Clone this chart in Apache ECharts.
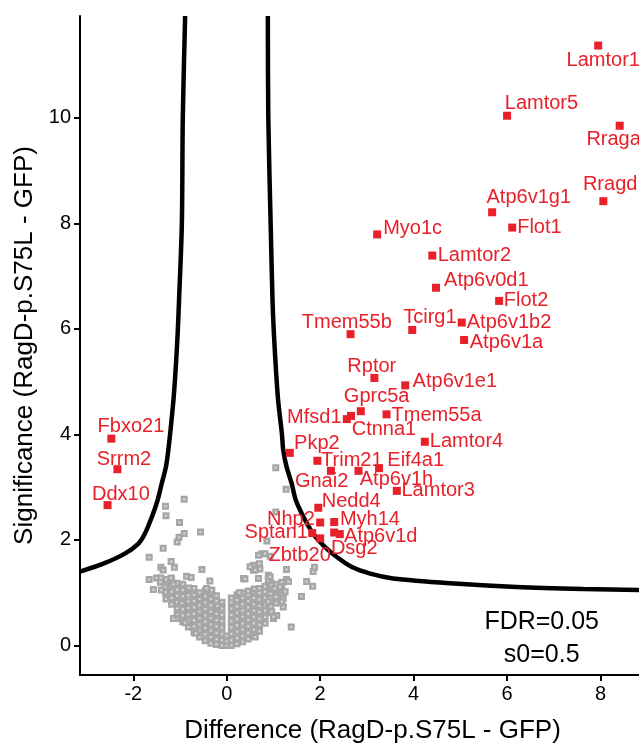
<!DOCTYPE html>
<html><head><meta charset="utf-8">
<script src="https://cdn.jsdelivr.net/npm/echarts@6/dist/echarts.min.js"></script>
<style>html,body{margin:0;padding:0;background:#fff}#c{width:639px;height:746px}</style>
</head><body><div id="c"></div>
<script>
// ---------- data ----------
const xTicks = [-2, 0, 2, 4, 6, 8];
const yTicks = [0, 2, 4, 6, 8, 10];
const xTitle = 'Difference (RagD-p.S75L - GFP)';
const yTitle = 'Significance (RagD-p.S75L - GFP)';
const notes = ['FDR=0.05', 's0=0.5'];

const redNames = ['Lamtor1','Lamtor5','Rraga','Rragd','Atp6v1g1','Flot1','Myo1c','Lamtor2','Atp6v0d1','Flot2',
  'Atp6v1b2','Atp6v1a','Tcirg1','Tmem55b','Rptor','Atp6v1e1','Gprc5a','Mfsd1','Ctnna1','Tmem55a',
  'Lamtor4','Pkp2','Trim21','Gnai2','Atp6v1h','Eif4a1','Lamtor3','Nedd4','Nhp2','Myh14',
  'Atp6v1d','Dsg2','Sptan1','Zbtb20','Fbxo21','Srrm2','Ddx10'];
const redX = [7.95,6.00,8.41,8.06,5.68,6.11,3.22,4.40,4.48,5.83,
  5.03,5.08,3.97,2.65,3.16,3.82,2.87,2.57,2.66,3.42,
  4.24,1.35,1.94,2.23,2.82,3.26,3.64,1.96,2.00,2.30,
  2.42,2.30,1.83,2.00,-2.47,-2.34,-2.55];
const redY = [11.37,10.04,9.85,8.42,8.21,7.92,7.79,7.39,6.78,6.53,
  6.12,5.79,5.98,5.90,5.07,4.93,4.44,4.29,4.35,4.38,
  3.86,3.65,3.50,3.31,3.31,3.36,2.93,2.61,2.33,2.34,
  2.11,2.14,2.13,2.03,3.92,3.34,2.66];

const greyScattered = [
  [-0.91,2.77],[-1.31,2.64],[-1.30,2.46],[-1.01,2.33],[-0.91,2.12],[-0.56,2.15],[-1.02,2.05],[-1.06,1.96],
  [-1.36,1.84],[-1.66,1.67],[-1.19,1.59],[-1.41,1.48],[-1.36,1.43],[-1.12,1.48],[-0.53,1.44],[-1.66,1.25],
  [-1.50,1.28],[-1.41,1.28],[-1.19,1.28],[-0.86,1.31],[-0.76,1.29],[-0.36,1.22],[-1.57,1.06],[-1.32,1.11],
  [-1.31,1.01],[-1.14,1.16],[-0.81,1.09],[-0.43,1.08],[-0.32,1.05],[-0.98,0.84],[-1.07,0.51],[-0.89,0.43],
  [-0.66,0.23],[-0.20,0.75],[-1.14,0.51],[-0.96,0.80],[-1.42,1.20],[-1.40,1.05],
  [1.05,3.37],[1.27,2.96],[1.05,2.53],[0.86,1.98],[0.75,1.74],[0.82,1.74],[0.68,1.71],[0.93,1.69],
  [0.57,1.52],[0.70,1.55],[0.71,1.45],[0.57,1.43],[0.50,1.49],[0.61,1.43],[1.28,1.44],[1.28,1.25],
  [0.89,1.33],[0.36,1.27],[0.39,1.26],[0.68,1.27],[0.89,1.24],[0.93,1.30],[1.71,1.21],[1.84,1.12],
  [1.85,1.40],[1.88,1.48],[1.60,0.93],[1.38,0.35],[1.32,1.21],[0.27,1.00],[0.59,1.07],[0.96,1.14],
  [1.03,1.08],[1.14,1.11],[1.25,1.02],[1.21,0.89],[1.18,0.83],[0.93,0.89],[0.89,0.83],[1.21,0.73],
  [0.96,0.64],[1.07,0.57],[1.00,0.51],[0.61,0.16],[1.00,0.54]
];
const greyDense = [
  [-1.30,0.88],[-1.30,1.00],[-1.30,1.12],[-1.30,1.25],
  [-1.18,0.78],[-1.18,0.90],[-1.18,1.02],[-1.18,1.14],[-1.18,1.26],
  [-1.06,0.58],[-1.06,0.70],[-1.06,0.82],[-1.06,0.94],[-1.06,1.06],[-1.06,1.18],
  [-0.94,0.45],[-0.94,0.57],[-0.94,0.69],[-0.94,0.81],[-0.94,0.93],[-0.94,1.05],[-0.94,1.16],
  [-0.82,0.35],[-0.82,0.47],[-0.82,0.59],[-0.82,0.71],[-0.82,0.83],[-0.82,0.95],[-0.82,1.07],
  [-0.70,0.24],[-0.70,0.36],[-0.70,0.48],[-0.70,0.60],[-0.70,0.72],[-0.70,0.84],[-0.70,0.96],[-0.70,1.08],
  [-0.58,0.16],[-0.58,0.28],[-0.58,0.40],[-0.58,0.52],[-0.58,0.64],[-0.58,0.76],[-0.58,0.88],[-0.58,1.00],
  [-0.46,0.09],[-0.46,0.21],[-0.46,0.33],[-0.46,0.45],[-0.46,0.57],[-0.46,0.69],[-0.46,0.81],[-0.46,0.93],[-0.46,1.04],
  [-0.34,0.04],[-0.34,0.16],[-0.34,0.28],[-0.34,0.40],[-0.34,0.52],[-0.34,0.64],[-0.34,0.76],[-0.34,0.88],[-0.34,1.00],
  [-0.22,0.02],[-0.22,0.12],[-0.22,0.24],[-0.22,0.36],[-0.22,0.48],[-0.22,0.60],[-0.22,0.72],[-0.22,0.84],[-0.22,0.94],
  [-0.10,0.00],[-0.10,0.10],[-0.10,0.22],[-0.10,0.34],[-0.10,0.46],[-0.10,0.58],[-0.10,0.70],[-0.10,0.82],
  [0.00,0.00],[0.00,0.08],[0.00,0.18],
  [0.10,0.00],[0.10,0.10],[0.10,0.22],[0.10,0.34],[0.10,0.46],[0.10,0.58],[0.10,0.70],[0.10,0.82],[0.10,0.90],
  [0.22,0.03],[0.22,0.14],[0.22,0.26],[0.22,0.38],[0.22,0.50],[0.22,0.62],[0.22,0.74],[0.22,0.86],[0.22,0.96],
  [0.34,0.07],[0.34,0.18],[0.34,0.30],[0.34,0.42],[0.34,0.54],[0.34,0.66],[0.34,0.78],[0.34,0.90],[0.34,1.00],
  [0.46,0.12],[0.46,0.24],[0.46,0.36],[0.46,0.48],[0.46,0.60],[0.46,0.72],[0.46,0.84],[0.46,0.96],[0.46,1.03],
  [0.58,0.18],[0.58,0.30],[0.58,0.42],[0.58,0.54],[0.58,0.66],[0.58,0.78],[0.58,0.90],[0.58,1.02],
  [0.70,0.27],[0.70,0.39],[0.70,0.51],[0.70,0.63],[0.70,0.75],[0.70,0.87],[0.70,0.99],[0.70,1.08],
  [0.82,0.42],[0.82,0.54],[0.82,0.66],[0.82,0.78],[0.82,0.90],[0.82,1.02],[0.82,1.12],
  [0.94,0.62],[0.94,0.74],[0.94,0.86],[0.94,0.98],[0.94,1.10],[0.94,1.18],
  [1.06,0.80],[1.06,0.92],[1.06,1.04],[1.06,1.16],
  [1.18,0.95],[1.18,1.08],[1.18,1.20]
];

const curveLeft = [[-0.89,11.93],[-0.94,10.0],[-0.96,8.0],[-1.02,6.55],[-1.05,5.91],[-1.09,5.28],[-1.14,4.65],
  [-1.21,4.02],[-1.25,3.70],[-1.30,3.39],[-1.39,3.07],[-1.48,2.75],[-1.60,2.44],[-1.75,2.12],[-1.89,1.93],
  [-2.18,1.74],[-2.64,1.55],[-3.14,1.40]];
const curveRight = [[0.88,11.93],[0.89,10.0],[0.94,8.0],[0.98,6.55],[1.01,5.91],[1.05,5.28],[1.10,4.65],
  [1.18,4.02],[1.21,3.70],[1.28,3.39],[1.39,3.07],[1.48,2.75],[1.64,2.44],[1.85,2.12],[2.10,1.87],
  [2.35,1.68],[2.67,1.49],[3.07,1.36],[3.56,1.27],[4.78,1.18],[6.20,1.11],[7.63,1.07],[8.82,1.05],[9.38,1.04]];

// ---------- label layout (style only) ----------
const labelLayout = {
  Lamtor1:[-31.6,15.2,'left'], Lamtor5:[-2.3,-12.4,'left'], Rraga:[-33.3,14,'left'], Rragd:[-20.4,-16.5,'left'],
  Atp6v1g1:[-5.6,-14.8,'left'], Flot1:[5,0,'left'], Myo1c:[6,-6.3,'left'], Lamtor2:[5.4,0,'left'],
  Atp6v0d1:[8,-7.7,'left'], Flot2:[4.7,0,'left'], Atp6v1b2:[5,0,'left'], Atp6v1a:[5.7,2.8,'left'],
  Tcirg1:[-9,-12.5,'left'], Tmem55b:[-3.7,-11.6,'center'], Rptor:[-2.6,-11.7,'center'], Atp6v1e1:[7.4,-3.6,'left'],
  Gprc5a:[-17,-14.7,'left'], Mfsd1:[-5.3,-1.5,'right'], Ctnna1:[0.7,13.7,'left'], Tmem55a:[5,1,'left'],
  Lamtor4:[5,0,'left'], Pkp2:[4.3,-9,'left'], Trim21:[3.7,-0.7,'left'], Gnai2:[-36,10.5,'left'],
  Atp6v1h:[1.3,8.3,'left'], Eif4a1:[8.3,-7.6,'left'], Lamtor3:[4.7,-0.7,'left'], Nedd4:[3.4,-6.4,'left'],
  Nhp2:[-5.3,-3.5,'right'], Myh14:[5.7,-3,'left'], Atp6v1d:[4.3,2,'left'], Dsg2:[-3.3,15.5,'left'],
  Sptan1:[-4.3,-0.5,'right'], Zbtb20:[-20.5,16.7,'center'], Fbxo21:[-13.7,-11.7,'left'],
  Srrm2:[-20.6,-10.1,'left'], Ddx10:[-15.6,-10.5,'left']
};

const FONT = '"Liberation Sans", Arial, Helvetica, sans-serif';
const RED = '#e8202a';
const RED_SIZE = 8;
const half = RED_SIZE / 2;

const redData = redNames.map((n, i) => {
  const l = labelLayout[n];
  return {
    name: n, value: [redX[i], redY[i]],
    label: { position: [half + l[0], half + l[1]], align: l[2], verticalAlign: 'middle' }
  };
});

const chart = echarts.init(document.getElementById('c'), null, { renderer: 'canvas' });
chart.setOption({
  animation: false,
  backgroundColor: '#fff',
  textStyle: { fontFamily: FONT },
  grid: { left: 80, top: 16, right: -26, bottom: 71, outerBoundsMode: 'none', containLabel: false },
  xAxis: {
    type: 'value', min: -3.14, max: 9.38,
    name: xTitle, nameLocation: 'middle', nameGap: 43,
    nameTextStyle: { fontSize: 26, color: '#000', fontFamily: FONT },
    axisLine: { onZero: false, lineStyle: { color: '#000', width: 2 } },
    axisTick: { show: true, customValues: xTicks, length: 6, lineStyle: { color: '#000', width: 2 } },
    axisLabel: { customValues: xTicks, fontSize: 20, color: '#000', margin: 9, fontFamily: FONT },
    splitLine: { show: false }
  },
  yAxis: {
    type: 'value', min: -0.56, max: 11.93,
    name: yTitle, nameLocation: 'middle', nameGap: 42,
    nameTextStyle: { fontSize: 26, color: '#000', fontFamily: FONT },
    axisLine: { onZero: false, lineStyle: { color: '#000', width: 2 } },
    axisTick: { show: true, customValues: yTicks, length: 6, lineStyle: { color: '#000', width: 2 } },
    axisLabel: { customValues: yTicks, fontSize: 20, color: '#000', margin: 9, fontFamily: FONT },
    splitLine: { show: false }
  },
  series: [
    { type: 'scatter', data: greyDense.concat(greyScattered), symbol: 'rect', symbolSize: 4.6,
      itemStyle: { color: '#d6d6d6', borderColor: '#a6a6a6', borderWidth: 2.4, opacity: 1 }, z: 2, silent: true },
    { type: 'line', data: curveLeft, showSymbol: false, smooth: 0.3, lineStyle: { color: '#000', width: 4.5 }, z: 3, silent: true },
    { type: 'line', data: curveRight, showSymbol: false, smooth: 0.3, lineStyle: { color: '#000', width: 4.5 }, z: 3, silent: true },
    { type: 'scatter', data: redData, symbol: 'rect', symbolSize: RED_SIZE, itemStyle: { color: RED, opacity: 1 }, z: 4,
      label: { show: true, formatter: '{b}', color: RED, fontSize: 20, fontFamily: FONT }, labelLayout: { hideOverlap: false } }
  ],
  graphic: [
    { type: 'text', x: 541.7, y: 622.3, style: { text: notes[0], fill: '#000', fontSize: 25, fontFamily: FONT, align: 'center', verticalAlign: 'middle' } },
    { type: 'text', x: 541.7, y: 655, style: { text: notes[1], fill: '#000', fontSize: 25, fontFamily: FONT, align: 'center', verticalAlign: 'middle' } }
  ]
});
</script></body></html>
